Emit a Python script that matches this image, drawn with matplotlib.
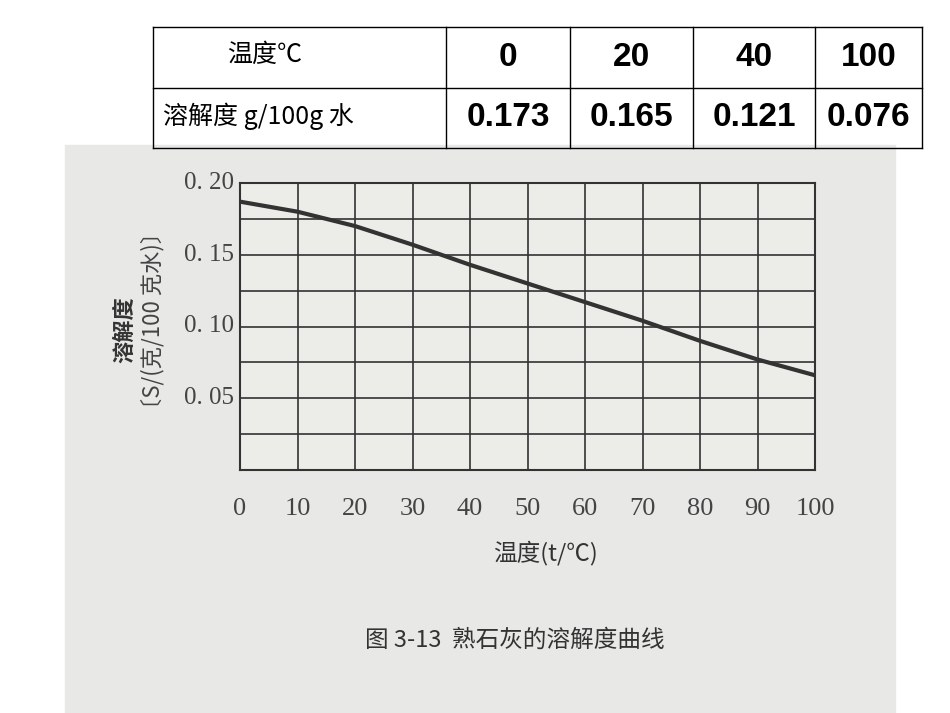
import matplotlib
matplotlib.use("Agg")
import matplotlib.pyplot as plt
from matplotlib.patches import Rectangle

plt.rcParams['font.family'] = ['Noto Sans CJK SC', 'DejaVu Sans']

# table data
temps_tbl = ["0", "20", "40", "100"]
solub_tbl = ["0.173", "0.165", "0.121", "0.076"]
row_heads = ["温度℃", "溶解度 g/100g 水"]

# curve data
temps = [0, 10, 20, 30, 40, 50, 60, 70, 80, 90, 100]
solub = [0.187, 0.180, 0.170, 0.157, 0.143, 0.130, 0.117, 0.104, 0.090, 0.077, 0.066]
ytick_vals = [0.05, 0.10, 0.15, 0.20]
ytick_labs = ["0. 05", "0. 10", "0. 15", "0. 20"]

W, H = 950, 713
fig = plt.figure(figsize=(9.5, 7.13), dpi=100)

def fx(px): return px / W
def fy(py): return 1 - py / H

# scanned page background
fig.patches.append(Rectangle((fx(65), 0), fx(895) - fx(65), fy(145),
                             transform=fig.transFigure, color="#e8e8e6", zorder=-1))

# table grid
cols = [153, 446, 570, 693, 815, 922]
rows = [27, 88, 148]
for r in rows:
    fig.add_artist(plt.Line2D([fx(cols[0]), fx(cols[-1])], [fy(r), fy(r)], color="black", lw=1))
for c in cols:
    fig.add_artist(plt.Line2D([fx(c), fx(c)], [fy(rows[0]), fy(rows[-1])], color="black", lw=1))
fig.text(fx(265), fy(55), row_heads[0], fontsize=18, ha="center", va="center")
fig.text(fx(163), fy(116), row_heads[1], fontsize=18, ha="left", va="center")
for i in range(4):
    cx = (cols[i + 1] + cols[i + 2]) / 2
    fig.text(fx(cx), fy(57), temps_tbl[i], fontsize=24, ha="center", va="center",
             family="Liberation Sans", fontweight="bold")
    fig.text(fx(cx), fy(117), solub_tbl[i], fontsize=24, ha="center", va="center",
             family="Liberation Sans", fontweight="bold")

# chart
ax = fig.add_axes([fx(240), fy(470), fx(815) - fx(240), fy(183) - fy(470)], zorder=2)
ax.set_facecolor("#ecece9")
ax.plot(temps, solub, color="#333333", lw=3)
ax.set_xlim(0, 100)
ax.set_ylim(0, 0.20)
ax.set_xticks(range(0, 101, 10))
ax.set_yticks([0.025 * i for i in range(9)])
ax.grid(True, color="#333333", lw=1.2)
for s in ax.spines.values():
    s.set_color("#333333")
    s.set_linewidth(1.5)
ax.tick_params(length=0, pad=20, labelsize=19, colors="#444444")
ax.set_xticklabels([str(t) for t in range(0, 101, 10)], family="Liberation Serif")
ax.set_yticklabels([])
for v, lab in zip(ytick_vals, ytick_labs):
    ax.text(-1, v, lab, ha="right", va="center", fontsize=18, color="#444444",
            family="Liberation Serif")

fig.text(fx(125), fy(330), "溶解度", rotation=90, fontsize=16, fontweight="bold",
         ha="center", va="center", color="#333333")
fig.text(fx(153), fy(320), "〔S/(克/100 克水)〕", rotation=90, fontsize=16,
         ha="center", va="center", color="#444444")
fig.text(fx(545), fy(553), "温度(t/℃)", fontsize=17, ha="center", va="center", color="#333333")
fig.text(fx(515), fy(640), "图 3-13  熟石灰的溶解度曲线", fontsize=17, ha="center",
         va="center", color="#333333")

fig.savefig("out.png", dpi=100)
